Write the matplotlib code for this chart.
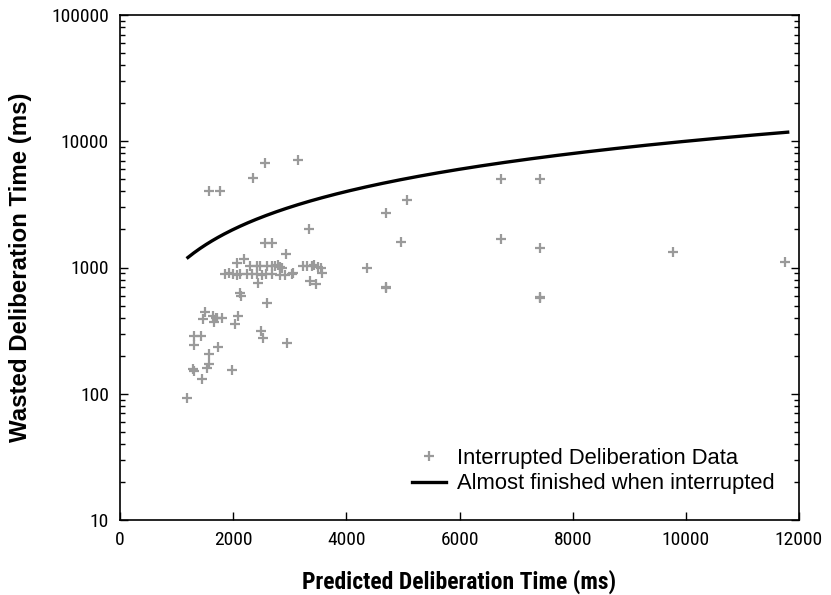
import numpy as np
import matplotlib
matplotlib.use("Agg")
import matplotlib.pyplot as plt
from matplotlib.ticker import LogLocator, FixedLocator, NullFormatter
from matplotlib import font_manager

# ---- data ----
pred_ms = [3150, 2560, 2350, 1580, 1770, 3340, 2560, 2690, 2940, 2070, 2190,
           # upper cluster row (~1000)
           2300, 2415, 2475, 2600, 2680, 2740, 2800, 2830, 2860,
           3240, 3300, 3390, 3430, 3500, 3565, 3545, 3060,
           # lower cluster row (~890)
           1855, 1930, 2000, 2060, 2120, 2240, 2330, 2415, 2505, 2580,
           2680, 2830, 2915, 3035,
           2445, 3355, 3465, 2120, 4360,
           # lower-left scatter
           2140, 2590, 1500, 1460, 1650, 1700, 1665, 1800, 1720, 2090, 2030,
           1310, 1430, 1315, 2490, 2530, 1725, 1580, 2955, 1575, 1530, 1285,
           1310, 1975, 1455, 1180,
           # right-hand points
           6730, 7420, 5080, 4700, 4965, 6730, 7420, 4700, 4700, 7420, 7420,
           9780, 11760]

wasted_ms = [7100, 6700, 5100, 4000, 4000, 2000, 1550, 1550, 1280, 1080, 1170,
             1020, 1030, 1030, 1020, 1020, 1030, 1040, 1010, 990,
             1035, 1020, 1030, 1045, 1005, 910, 985, 900,
             890, 900, 890, 880, 890, 890, 890, 890, 880, 890,
             890, 880, 870, 890,
             750, 786, 740, 625, 1000,
             598, 520, 447, 389, 415, 396, 372, 400, 400, 415, 355,
             287, 287, 243, 316, 278, 233, 206, 254, 172, 159, 157,
             152, 154, 131, 93,
             5000, 5000, 3450, 2700, 1600, 1680, 1420, 705, 684, 587, 570,
             1330, 1100]

line_start_ms = 1200
line_end_ms = 11800

x_ticks = [0, 2000, 4000, 6000, 8000, 10000, 12000]
y_ticks = [10, 100, 1000, 10000, 100000]

available = {f.name for f in font_manager.fontManager.ttflist}
narrow = "Liberation Sans"
for cand in ["Liberation Sans Narrow", "Roboto Condensed", "Open Sans Condensed"]:
    if cand in available:
        narrow = cand
        break

fig = plt.figure(figsize=(8.31, 5.95), dpi=100)
ax = fig.add_axes([120 / 831, 1 - 520 / 595, 679 / 831, 505 / 595])

ax.plot(pred_ms, wasted_ms, linestyle="none", marker="+", color="#9a9a9a",
        markersize=7, markeredgewidth=1.6, label="Interrupted Deliberation Data")

line_x = np.linspace(line_start_ms, line_end_ms, 300)
ax.plot(line_x, line_x, color="black", linewidth=2.4,
        label="Almost finished when interrupted")

ax.set_yscale("log")
ax.set_xlim(0, 12000)
ax.set_ylim(10, 100000)
ax.xaxis.set_major_locator(FixedLocator(x_ticks))
ax.yaxis.set_major_locator(FixedLocator(y_ticks))
ax.set_xticklabels([str(t) for t in x_ticks])
ax.set_yticklabels([str(t) for t in y_ticks])
ax.yaxis.set_minor_locator(LogLocator(base=10, subs=np.arange(2, 10)))
ax.yaxis.set_minor_formatter(NullFormatter())

ax.tick_params(axis="x", which="both", direction="in", top=False, bottom=True,
               length=6, width=1, pad=8)
ax.tick_params(axis="y", which="major", direction="in", left=True, right=True,
               length=6, width=1, pad=8)
ax.tick_params(axis="y", which="minor", direction="in", left=True, right=True,
               length=3.5, width=1)
for lab in ax.get_xticklabels() + ax.get_yticklabels():
    lab.set_fontfamily(narrow)
    lab.set_fontsize(14)

for sp in ax.spines.values():
    sp.set_linewidth(1.2)

ax.set_xlabel("Predicted Deliberation Time (ms)", fontfamily=narrow,
              fontweight="bold", fontsize=17, labelpad=15)
ax.set_ylabel("Wasted Deliberation Time (ms)", fontfamily="Liberation Sans",
              fontweight="bold", fontsize=17.3, labelpad=14)

leg = ax.legend(loc="lower left", bbox_to_anchor=(0.414, 0.029), frameon=False,
                prop={"family": "Liberation Sans", "size": 15.8},
                handlelength=1.55, handletextpad=0.5, labelspacing=0.2,
                borderpad=0)

fig.savefig("out.png", dpi=100)
